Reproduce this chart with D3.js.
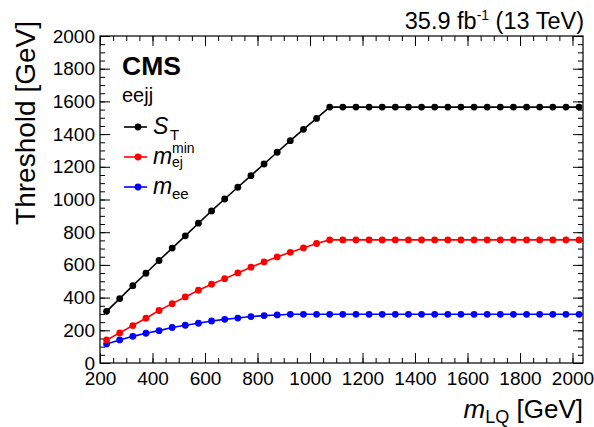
<!DOCTYPE html>
<html lang="en">
<head>
  <meta charset="UTF-8" />
  <title>LQ thresholds eejj</title>
  <script src="https://d3js.org/d3.v7.min.js"></script>
  <style>
    body {
      margin: 0;
      background: #fff;
    }
    svg text {
      font-family: 'Liberation Sans', Arial, Helvetica, sans-serif;
      fill: #000;
    }
  </style>
</head>
<body>
  <svg id="chart" width="594" height="427"></svg>

  <script>
    // bin centres of the LQ mass histogram (GeV)
    const mLQ = [225, 275, 325, 375, 425, 475, 525, 575, 625, 675, 725, 775, 825, 875, 925, 975,
                 1025, 1075, 1125, 1175, 1225, 1275, 1325, 1375, 1425, 1475, 1525, 1575, 1625,
                 1675, 1725, 1775, 1825, 1875, 1925, 1975, 2025];
    const sT = [316, 394, 473, 549, 627, 703, 778, 855, 930, 1003, 1075, 1146, 1217, 1289, 1360,
                1429, 1496, 1565, 1565, 1565, 1565, 1565, 1565, 1565, 1565, 1565, 1565, 1565,
                1565, 1565, 1565, 1565, 1565, 1565, 1565, 1565, 1565];
    const mEjMin = [141, 184, 229, 274, 321, 363, 404, 445, 482, 516, 551, 586, 618, 649, 677,
                    704, 731, 753, 753, 753, 753, 753, 753, 753, 753, 753, 753, 753, 753, 753,
                    753, 753, 753, 753, 753, 753, 753];
    const mEE = [116, 141, 163, 182, 198, 217, 231, 243, 257, 267, 275, 284, 290, 294, 298, 298,
                 298, 298, 298, 298, 298, 298, 298, 298, 298, 298, 298, 298, 298, 298, 298, 298,
                 298, 298, 298, 298, 298];

    const xTicks = [200, 400, 600, 800, 1000, 1200, 1400, 1600, 1800, 2000];
    const yTicks = [0, 200, 400, 600, 800, 1000, 1200, 1400, 1600, 1800, 2000];

    const svg = d3.select("#chart");
    const frame = {left: 100, right: 583, top: 36, bottom: 363};

    const x = d3.scaleLinear().domain([200, 2040]).range([frame.left, frame.right]);
    const y = d3.scaleLinear().domain([0, 2000]).range([frame.bottom, frame.top]);

    const xMinor = d3.range(200, 2041, 50);
    const yMinor = d3.range(0, 2001, 50);

    // axes: ROOT style, ticks inside on all four sides
    function tickAxis(axis, transform, values, size, pad, labels) {
      const g = svg.append("g")
        .attr("transform", transform)
        .call(axis.tickValues(values).tickSize(size).tickPadding(pad)
          .tickFormat(labels ? d3.format("d") : ""));
      g.select(".domain").remove();
      g.selectAll("line").attr("stroke", "#000").attr("stroke-width", 1);
      g.selectAll("text").style("font-size", "19px").attr("fill", "#000");
      return g;
    }

    tickAxis(d3.axisBottom(x), `translate(0,${frame.bottom})`, xTicks, -10, 9, true);
    tickAxis(d3.axisBottom(x), `translate(0,${frame.bottom})`, xMinor, -5, 0, false);
    tickAxis(d3.axisTop(x), `translate(0,${frame.top})`, xTicks, -10, 0, false);
    tickAxis(d3.axisTop(x), `translate(0,${frame.top})`, xMinor, -5, 0, false);
    tickAxis(d3.axisLeft(y), `translate(${frame.left},0)`, yTicks, -10, 5, true);
    tickAxis(d3.axisLeft(y), `translate(${frame.left},0)`, yMinor, -5, 0, false);
    tickAxis(d3.axisRight(y), `translate(${frame.right},0)`, yTicks, -10, 0, false);
    tickAxis(d3.axisRight(y), `translate(${frame.right},0)`, yMinor, -5, 0, false);

    svg.append("rect")
      .attr("x", frame.left).attr("y", frame.top)
      .attr("width", frame.right - frame.left).attr("height", frame.bottom - frame.top)
      .attr("fill", "none").attr("stroke", "#000").attr("stroke-width", 1.2);

    // series
    const series = [
      {values: mEE, color: "#0000ff"},
      {values: mEjMin, color: "#ff0000"},
      {values: sT, color: "#000000"}
    ];
    const line = d3.line().x(d => x(d[0])).y(d => y(d[1]));
    series.forEach(s => {
      const pts = mLQ.map((m, i) => [m, s.values[i]]);
      svg.append("path")
        .datum(pts)
        .attr("fill", "none")
        .attr("stroke", s.color)
        .attr("stroke-width", 1.6)
        .attr("d", line);
      svg.append("g").selectAll("circle")
        .data(pts)
        .enter().append("circle")
        .attr("cx", d => x(d[0]))
        .attr("cy", d => y(d[1]))
        .attr("r", 3.4)
        .attr("fill", s.color);
    });

    // labels
    svg.append("text")
      .attr("x", 122).attr("y", 75)
      .style("font-size", "26.5px").style("font-weight", "bold")
      .text("CMS");
    svg.append("text")
      .attr("x", 122).attr("y", 102)
      .style("font-size", "20px")
      .text("eejj");

    const legendRows = [
      {y: 127, color: "#000000"},
      {y: 157, color: "#ff0000"},
      {y: 187, color: "#0000ff"}
    ];
    legendRows.forEach(r => {
      svg.append("line")
        .attr("x1", 124).attr("x2", 147).attr("y1", r.y).attr("y2", r.y)
        .attr("stroke", r.color).attr("stroke-width", 1.6);
      svg.append("circle")
        .attr("cx", 138).attr("cy", r.y).attr("r", 3.4).attr("fill", r.color);
    });

    svg.append("text").attr("x", 153).attr("y", 134)
      .style("font-size", "23px").style("font-style", "italic").text("S");
    svg.append("text").attr("x", 170).attr("y", 140)
      .style("font-size", "15px").text("T");

    svg.append("text").attr("x", 153).attr("y", 164)
      .style("font-size", "23px").style("font-style", "italic").text("m");
    svg.append("text").attr("x", 172).attr("y", 153)
      .style("font-size", "14px").text("min");
    svg.append("text").attr("x", 172).attr("y", 167)
      .style("font-size", "14px").text("ej");

    svg.append("text").attr("x", 153).attr("y", 194)
      .style("font-size", "23px").style("font-style", "italic").text("m");
    svg.append("text").attr("x", 172).attr("y", 199)
      .style("font-size", "15px").text("ee");

    // luminosity label
    const lumi = svg.append("text")
      .attr("x", frame.right + 1).attr("y", 29)
      .attr("text-anchor", "end")
      .style("font-size", "23.5px");
    lumi.append("tspan").text("35.9 fb");
    lumi.append("tspan").attr("dy", -9).style("font-size", "14px").text("-1");
    lumi.append("tspan").attr("dy", 9).text(" (13 TeV)");

    // axis titles
    const xt = svg.append("text")
      .attr("x", frame.right).attr("y", 418)
      .attr("text-anchor", "end")
      .style("font-size", "26px");
    xt.append("tspan").style("font-style", "italic").text("m");
    xt.append("tspan").attr("dy", 5).style("font-size", "18px").text("LQ");
    xt.append("tspan").attr("dy", -5).text(" [GeV]");

    svg.append("text")
      .attr("transform", "translate(35,21) rotate(-90)")
      .attr("text-anchor", "end")
      .style("font-size", "28px")
      .text("Threshold [GeV]");
  </script>
</body>
</html>
